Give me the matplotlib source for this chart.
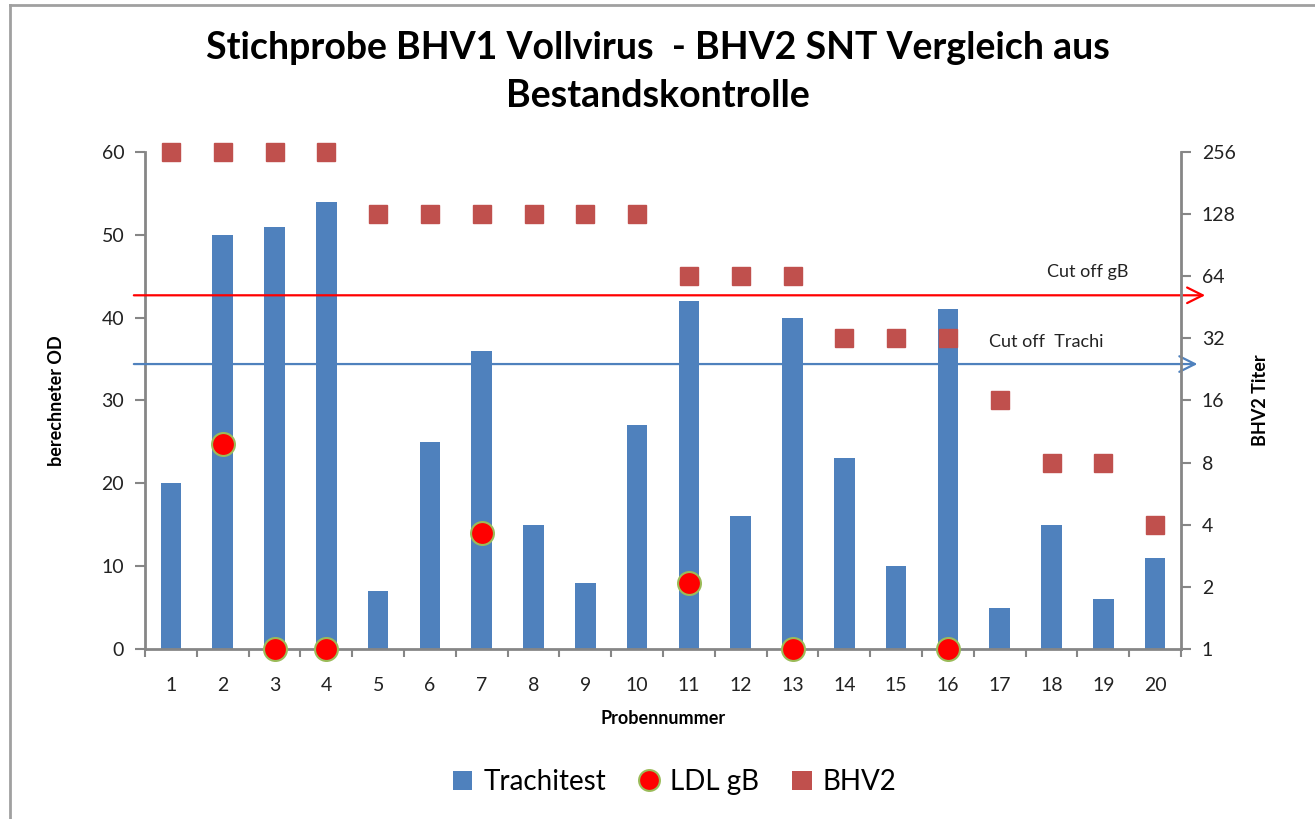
import numpy as np
import matplotlib
matplotlib.use("Agg")
import matplotlib.pyplot as plt
from matplotlib.lines import Line2D
from matplotlib.patches import Patch

plt.rcParams['font.family'] = ['Lato', 'DejaVu Sans']

# data
proben = list(range(1, 21))
trachitest = [20, 50, 51, 54, 7, 25, 36, 15, 8, 27, 42, 16, 40, 23, 10, 41, 5, 15, 6, 11]
ldl_probe = [2, 3, 4, 7, 11, 13, 16]
ldl_gb = [24.8, 0, 0, 14, 8, 0, 0]
bhv2 = [256, 256, 256, 256, 128, 128, 128, 128, 128, 128, 64, 64, 64, 32, 32, 32, 16, 8, 8, 4]
titer_ticks = [1, 2, 4, 8, 16, 32, 64, 128, 256]
cutoff_gb = 42.7
cutoff_trachi = 34.4

blue = "#4F81BD"
red_sq = "#C0504D"
grey = "#868686"

fig = plt.figure(figsize=(13.15, 8.19), dpi=100)
ax = fig.add_axes([0.1103, 0.2076, 0.7878, 0.6068])
ax2 = ax.twinx()

x = np.arange(len(proben))
ax.bar(x, trachitest, width=0.4, color=blue, zorder=2)
ax.set_xlim(-0.5, len(proben) - 0.5)
ax.set_ylim(0, 60)
ax.set_yticks(range(0, 61, 10))

ax2.set_yscale("log", base=2)
ax2.set_ylim(1, 256)
ax2.set_yticks(titer_ticks)
ax2.set_yticklabels([str(t) for t in titer_ticks])
ax2.minorticks_off()
ax2.plot(x, bhv2, linestyle="none", marker="s", markersize=12.5, color=red_sq,
         zorder=4, clip_on=False)

# LDL gB circles drawn on top of everything, in left-axis units
idx = [p - 1 for p in ldl_probe]
ax2.plot(idx, ldl_gb, linestyle="none", marker="o", markersize=16.5,
         markerfacecolor="#FF0000", markeredgecolor="#9BBB59", markeredgewidth=1.5,
         zorder=5, clip_on=False, transform=ax.transData)

# cut off arrows
ax.annotate("", xy=(20.02, cutoff_gb), xytext=(-0.77, cutoff_gb),
            arrowprops=dict(arrowstyle="->", color="#FF0000", lw=1.6, mutation_scale=28),
            annotation_clip=False, zorder=3)
ax.annotate("", xy=(19.87, cutoff_trachi), xytext=(-0.77, cutoff_trachi),
            arrowprops=dict(arrowstyle="->", color=blue, lw=1.6, mutation_scale=28),
            annotation_clip=False, zorder=3)
ax.text(17.7, 45.5, "Cut off gB", ha="center", va="center", fontsize=13, color="#222222")
ax.text(16.9, 37.1, "Cut off  Trachi", ha="center", va="center", fontsize=13, color="#222222")

# axes styling
for a in (ax, ax2):
    for s in a.spines.values():
        s.set_visible(False)
ax.spines["left"].set_visible(True)
ax.spines["bottom"].set_visible(True)
ax2.spines["right"].set_visible(True)
for s in (ax.spines["left"], ax.spines["bottom"], ax2.spines["right"]):
    s.set_color(grey)
    s.set_linewidth(2)

ax.set_xticks(x)
ax.set_xticklabels([str(p) for p in proben])
ax.set_xticks(np.arange(-0.5, len(proben)), minor=True)
ax.tick_params(axis="x", which="major", length=0, pad=20, labelsize=14, colors="#222222")
ax.tick_params(axis="x", which="minor", length=6, width=1.5, color=grey, direction="out")
ax.tick_params(axis="y", length=7, width=1.5, color=grey, labelsize=14, labelcolor="#222222", pad=8)
ax2.tick_params(axis="y", length=7, width=1.5, color=grey, labelsize=14, labelcolor="#222222", pad=8)

ax.set_xlabel("Probennummer", fontsize=13, fontweight="bold", labelpad=12)
ax.set_ylabel("berechneter OD", fontsize=13, fontweight="bold", labelpad=26)
ax2.set_ylabel("BHV2 Titer", fontsize=13, fontweight="bold", rotation=90, labelpad=12)

fig.suptitle("Stichprobe BHV1 Vollvirus  - BHV2 SNT Vergleich aus\nBestandskontrolle",
             fontsize=27, fontweight="bold", y=0.962, linespacing=1.5)

handles = [
    Patch(facecolor=blue, label="Trachitest"),
    Line2D([], [], linestyle="none", marker="o", markersize=15, markerfacecolor="#FF0000",
           markeredgecolor="#9BBB59", markeredgewidth=1.5, label="LDL gB"),
    Patch(facecolor=red_sq, label="BHV2"),
]
fig.legend(handles=handles, loc="center", bbox_to_anchor=(0.513, 0.045), ncol=3,
           frameon=False, fontsize=20, handlelength=0.7, handleheight=0.7,
           handletextpad=0.4, columnspacing=1.2)

# outer frame (top and left only visible)
fig.add_artist(Line2D([0.0076, 1.0], [0.9945, 0.9945], transform=fig.transFigure, color="#A0A0A0", lw=2))
fig.add_artist(Line2D([0.0076, 0.0076], [0.0, 0.9945], transform=fig.transFigure, color="#A0A0A0", lw=2))

fig.savefig("out.png", dpi=100)
